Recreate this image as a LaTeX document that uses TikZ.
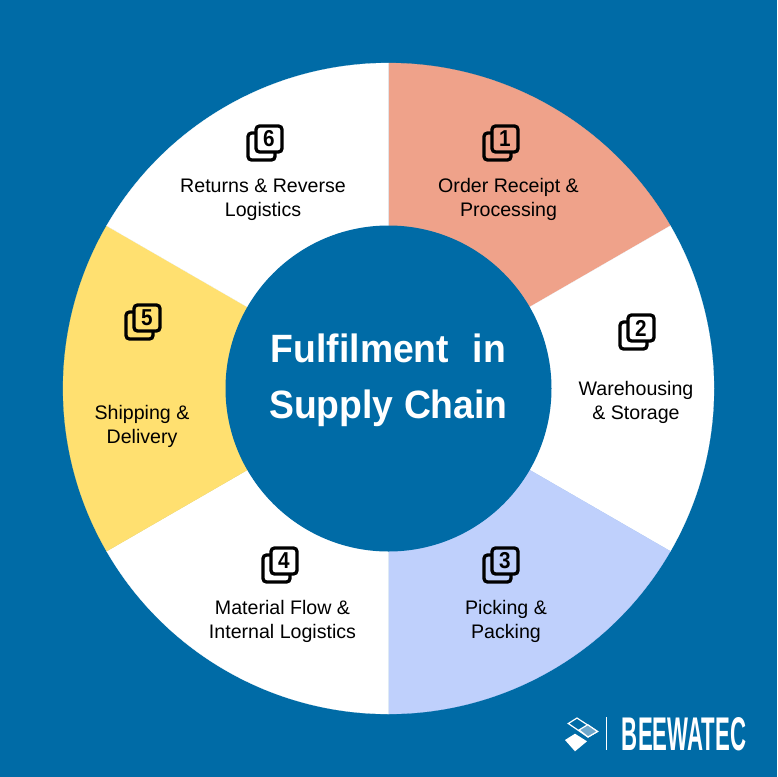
\documentclass[tikz,border=0pt]{standalone}
\usepackage{fontspec}
\setmainfont{Liberation Sans}
\newfontfamily\titlefont[FakeStretch=0.945]{Liberation Sans}
\newfontfamily\digitfont[FakeStretch=0.9]{Liberation Sans}
\definecolor{bgblue}{HTML}{006BA6}
\definecolor{salmon}{HTML}{EFA28A}
\definecolor{periw}{HTML}{BFD0FC}
\definecolor{sunny}{HTML}{FFE070}
\definecolor{logofill}{HTML}{6FA8CC}
\tikzset{
  x=1pt,y=-1pt,
  steplabel/.style={align=center,font=\fontsize{19.6}{24}\selectfont,text=black,inner sep=0pt},
  titletext/.style={align=center,font=\titlefont\fontsize{39.5}{56}\selectfont\bfseries,text=white,inner sep=0pt},
  iconline/.style={line width=3.3pt,rounded corners=3.5pt,black},
  stepicon/.pic={
    \draw[iconline] (-9,-10) -- (-17,-10) -- (-17,17) -- (10,17) -- (10,9);
    \draw[iconline] (-9,-17) rectangle (17,9);
    \node[font=\digitfont\fontsize{23}{23}\selectfont\bfseries,inner sep=0pt,text=black] (-pn) at (4,-4) {#1};
  },
  wedge/.style={fill=#1,draw=#1,line width=0.2pt}
}
\begin{document}
\begin{tikzpicture}
\useasboundingbox (0,0) rectangle (777,777);
\fill[bgblue] (0,0) rectangle (777,777);
\begin{scope}[shift={(388.5,388.5)},y=1pt]
\fill[wedge=salmon] (0,0) -- (90:325.5) arc[start angle=90,end angle=30,radius=325.5pt] -- cycle;
\fill[wedge=white] (0,0) -- (30:325.5) arc[start angle=30,end angle=-30,radius=325.5pt] -- cycle;
\fill[wedge=periw] (0,0) -- (-30:325.5) arc[start angle=-30,end angle=-90,radius=325.5pt] -- cycle;
\fill[wedge=white] (0,0) -- (-90:325.5) arc[start angle=-90,end angle=-150,radius=325.5pt] -- cycle;
\fill[wedge=sunny] (0,0) -- (-150:325.5) arc[start angle=-150,end angle=-210,radius=325.5pt] -- cycle;
\fill[wedge=white] (0,0) -- (150:325.5) arc[start angle=150,end angle=90,radius=325.5pt] -- cycle;
\fill[bgblue] (0,0) circle[radius=163pt];
\end{scope}
\node[titletext] (title) at (388.5,380.5) {Fulfilment\ \ \hspace{3pt}in\\Supply Chain};
\node[steplabel] (s1) at (508.5,199.5) {Order Receipt \&\\Processing};
\node[steplabel] (s2) at (636,402.5) {Warehousing\\\& Storage};
\node[steplabel] (s3) at (506,621.5) {Picking \&\\Packing};
\node[steplabel] (s4) at (282.5,621.5) {Material Flow \&\\Internal Logistics};
\node[steplabel] (s5) at (142,426.5) {Shipping \&\\Delivery};
\node[steplabel] (s6) at (263,199.5) {Returns \& Reverse\\Logistics};
\pic (i1) at (501,143) {stepicon=1};
\pic (i2) at (637,332) {stepicon=2};
\pic (i3) at (501,565) {stepicon=3};
\pic (i4) at (280,565) {stepicon=4};
\pic (i5) at (143,322) {stepicon=5};
\pic (i6) at (265,143) {stepicon=6};
% logo
\draw[white,line width=1.2pt] (568.3,723.5) -- (577,718) -- (597.5,731.5) -- (588,737) -- cycle;
\fill[logofill,draw=white,line width=1.2pt] (579,730) -- (587.7,724.7) -- (597.5,731.5) -- (588,737) -- cycle;
\fill[white] (565,740) -- (575,733.7) -- (587,741.3) -- (575,751.3) -- cycle;
\draw[white,line width=1pt] (606,717) -- (606,750);
\node[inner sep=0pt,text=white] (brand) at (684,734) {\resizebox{124pt}{33pt}{\bfseries BEEWATEC}};
\end{tikzpicture}
\end{document}
